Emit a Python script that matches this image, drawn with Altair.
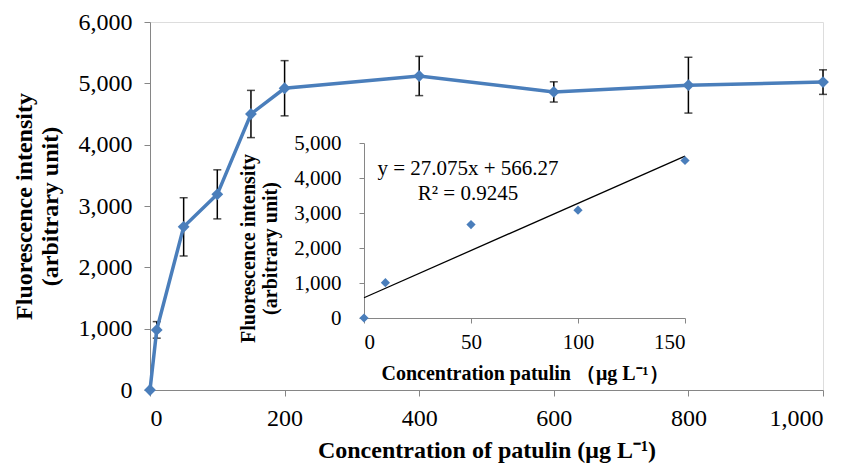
import altair as alt
import pandas as pd

# ---- data ----
conc = [0, 10, 50, 100, 150, 200, 400, 600, 800, 1000]
intensity = [0, 980, 2660, 3190, 4500, 4920, 5120, 4860, 4970, 5020]
sd = [0, 135, 475, 400, 385, 450, 320, 165, 455, 200]

inset_conc = [0, 10, 50, 100, 150]
inset_intensity = [0, 1010, 2670, 3080, 4500]
equation_text = "y = 27.075x + 566.27\nR² = 0.9245"

main_x_ticks = [0, 200, 400, 600, 800, 1000]
main_y_ticks = [0, 1000, 2000, 3000, 4000, 5000, 6000]
inset_x_ticks = [0, 50, 100, 150]
inset_y_ticks = [0, 1000, 2000, 3000, 4000, 5000]

main_df = pd.DataFrame({"c": conc, "f": intensity, "sd": sd})
main_df["lo"] = main_df["f"] - main_df["sd"]
main_df["hi"] = main_df["f"] + main_df["sd"]
err_df = main_df[main_df["sd"] > 0]
inset_df = pd.DataFrame({"c": inset_conc, "f": inset_intensity})

W, H = 673, 368
BLUE = "#4A7EBB"
GRAY = "#868686"
FONT = "Liberation Serif"

common_axis = dict(
    grid=False, domainColor=GRAY, tickColor=GRAY, labelColor="black",
    titleColor="black", labelFont=FONT, titleFont=FONT, titleFontWeight="bold",
    format=",.0f",
)

mx = alt.X("c:Q", scale=alt.Scale(domain=[0, 1000], nice=False, zero=False),
           axis=alt.Axis(values=main_x_ticks,
                         title="Concentration of patulin (μg L⁻¹)",
                         labelFontSize=24, titleFontSize=24, tickSize=6,
                         labelPadding=10, titlePadding=8, **common_axis))
my_axis = alt.Axis(values=main_y_ticks,
                   title=["Fluorescence intensity", "(arbitrary unit)"],
                   labelFontSize=24, titleFontSize=24, tickSize=6,
                   labelPadding=12, titlePadding=16, **common_axis)
my_scale = alt.Scale(domain=[0, 6000], nice=False)

rules = alt.Chart(err_df).mark_rule(color="black", strokeWidth=1.5).encode(
    x=mx, y=alt.Y("lo:Q", scale=my_scale, axis=my_axis), y2="hi:Q")
caps = alt.Chart(err_df).transform_fold(["lo", "hi"], as_=["k", "v"]).mark_tick(
    color="black", orient="horizontal", size=8, thickness=1.5).encode(
    x=mx, y=alt.Y("v:Q", scale=my_scale, axis=my_axis))
line = alt.Chart(main_df).mark_line(color=BLUE, strokeWidth=3.5).encode(
    x=mx, y=alt.Y("f:Q", scale=my_scale, axis=my_axis))
pts = alt.Chart(main_df).mark_point(shape="diamond", filled=True, size=140,
                                     color=BLUE, opacity=1).encode(
    x=mx, y=alt.Y("f:Q", scale=my_scale, axis=my_axis))
main = alt.layer(rules, caps, line, pts)

ix = alt.X("c:Q", scale=alt.Scale(domain=[0, 150], range=[214, 535], nice=False, zero=False),
           axis=alt.Axis(orient="bottom", offset=-72, values=inset_x_ticks,
                         title="Concentration patulin （μg L⁻¹）",
                         labelFontSize=21, titleFontSize=20, tickSize=5,
                         labelPadding=8, titlePadding=11, **common_axis))
iy = alt.Y("f:Q", scale=alt.Scale(domain=[0, 5000], range=[296, 121], nice=False),
           axis=alt.Axis(orient="left", offset=-214, values=inset_y_ticks,
                         title=["Fluorescence intensity", "(arbitrary unit)"],
                         labelFontSize=21, titleFontSize=20, tickSize=5,
                         labelPadding=18, titlePadding=13, titleY=226, **common_axis))

reg = alt.Chart(inset_df).transform_regression("c", "f", extent=[0, 150]).mark_line(
    color="black", strokeWidth=1.3).encode(x=ix, y=iy)
ipts = alt.Chart(inset_df).mark_point(shape="diamond", filled=True, size=85,
                                       color=BLUE, opacity=1).encode(x=ix, y=iy)
eq = alt.Chart(pd.DataFrame({"t": [equation_text]})).mark_text(
    font=FONT, fontSize=21, align="center", baseline="middle", lineBreak="\n",
    lineHeight=25, color="black").encode(
    text="t:N", x=alt.value(318), y=alt.value(147))
inset = alt.layer(reg, ipts, eq)

chart = alt.layer(main, inset).resolve_scale(x="independent", y="independent").properties(
    width=W, height=H,
    autosize=alt.AutoSizeParams(type="none"),
    padding={"left": 142, "top": 14, "right": 16, "bottom": 75},
).configure_view(stroke=None).configure(background="white")

chart.save("out.html", embed_options={"renderer": "svg", "actions": False})
